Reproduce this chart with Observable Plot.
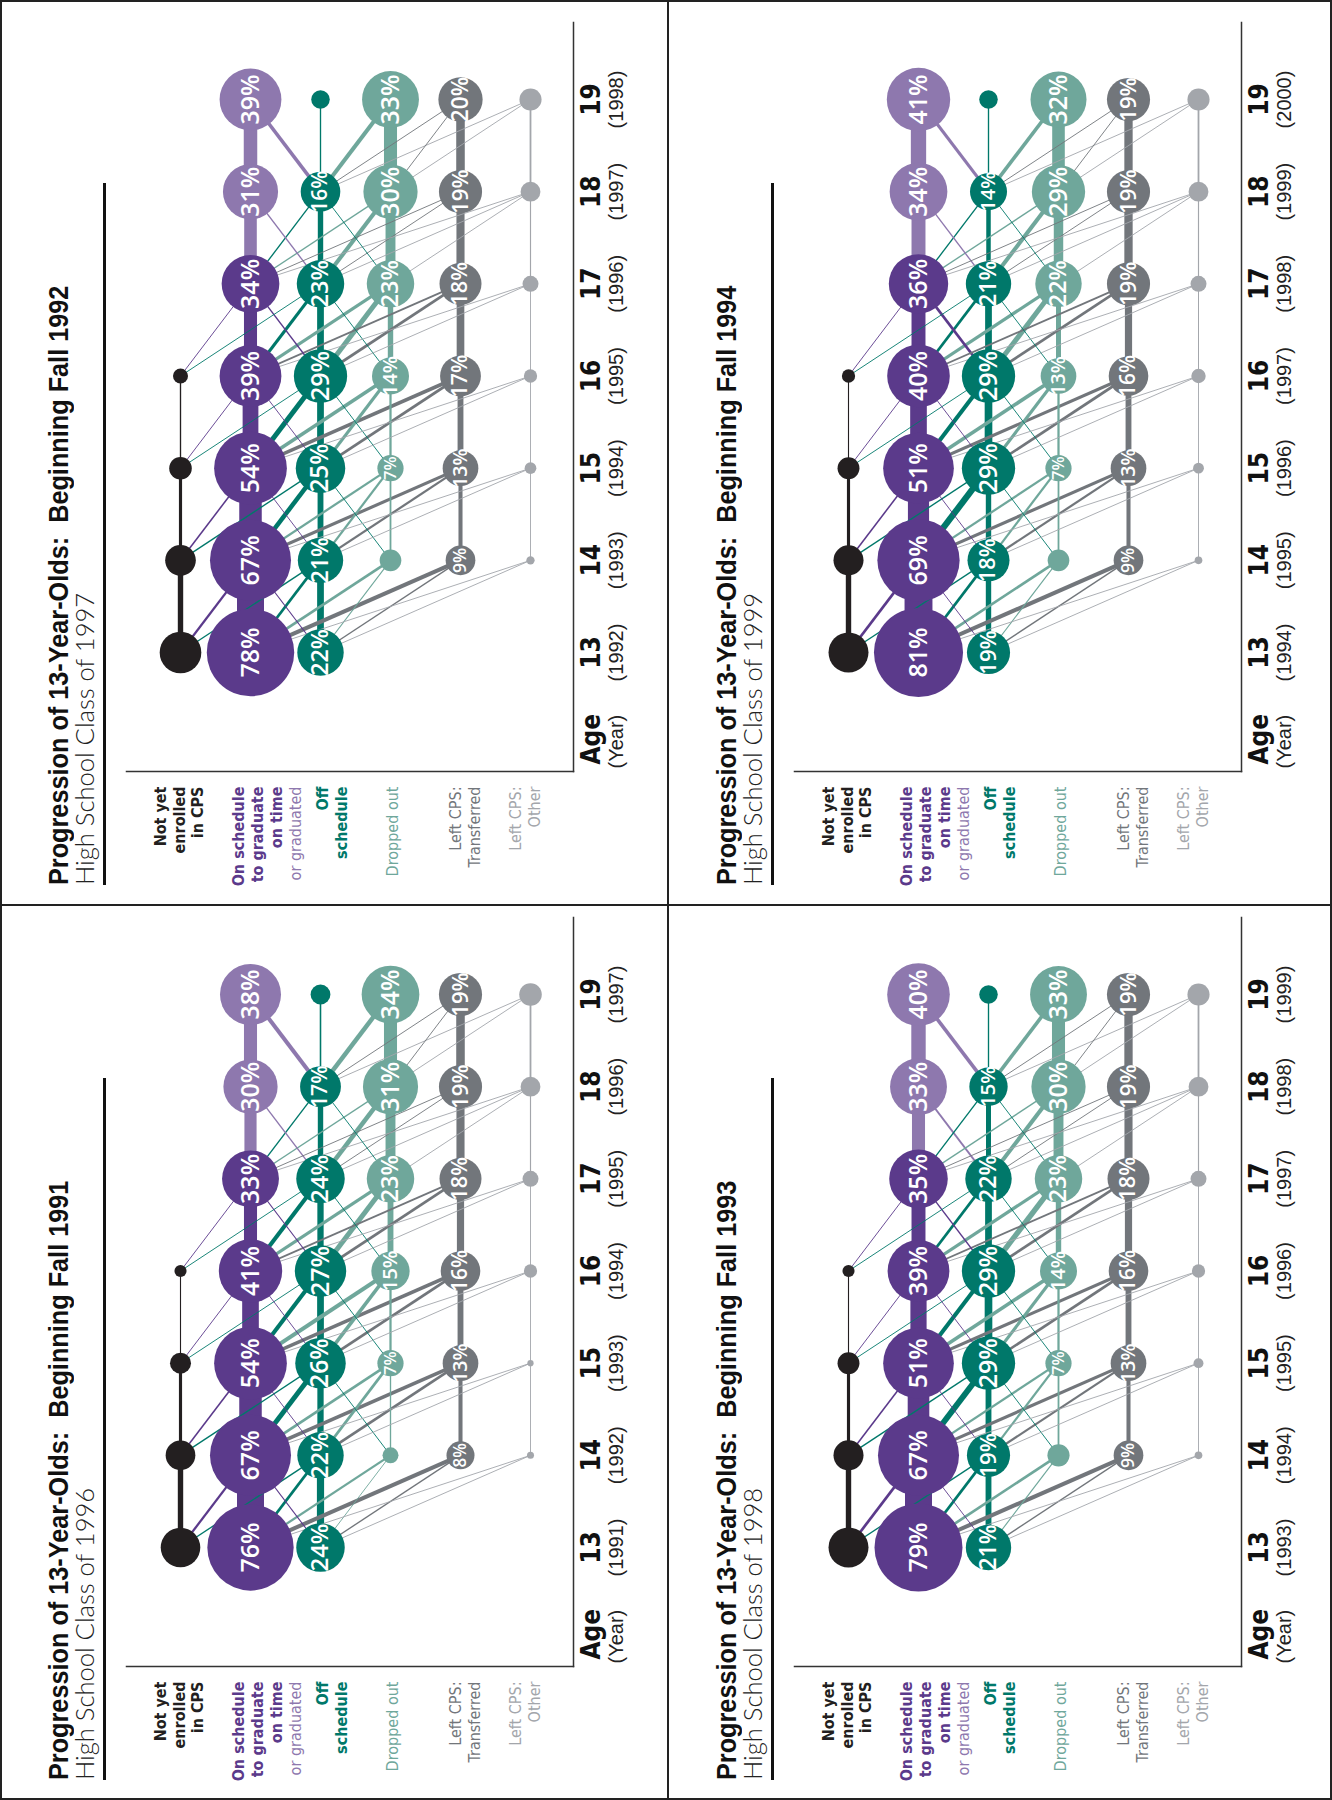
<!DOCTYPE html>
<html>
<head>
<meta charset="utf-8">
<script src="https://cdn.jsdelivr.net/npm/d3@7"></script>
<script src="https://cdn.jsdelivr.net/npm/@observablehq/plot@0.6"></script>
<style>
  html, body { margin: 0; padding: 0; background: #fff; }
  body { width: 1332px; height: 1800px; overflow: hidden; position: relative; }
  #page { position: absolute; left: 0; top: 0; width: 1800px; height: 1332px;
          transform-origin: 0 0; transform: translate(0px, 1800px) rotate(-90deg); background: #fff; }
  .panel { position: absolute; width: 895px; height: 668px; }
  .title { position: absolute; left: 20px; top: 43px; white-space: pre; line-height: 1; transform-origin: 0 0;
           font: bold 28px "Liberation Sans", Arial, sans-serif; color: #111; }
  .sub { position: absolute; left: 20px; top: 68px; white-space: pre; line-height: 1; transform-origin: 0 0;
         font: 300 26px Lato, "Liberation Sans", sans-serif; color: #222; }
  .rule { position: absolute; left: 20px; top: 103px; width: 702px; height: 2.5px; background: #111; }
  .chart { position: absolute; left: 0; top: 110px; }
  .line { position: absolute; background: #222; }
</style>
</head>
<body>
<div id="page"></div>
<script>
// ---------------- data ----------------
const CATS = ["N", "On", "Off", "Drop", "Tr", "Oth"];
const AGES = [13, 14, 15, 16, 17, 18, 19];

const years1991 = ["(1991)", "(1992)", "(1993)", "(1994)", "(1995)", "(1996)", "(1997)"];
const years1992 = ["(1992)", "(1993)", "(1994)", "(1995)", "(1996)", "(1997)", "(1998)"];
const years1993 = ["(1993)", "(1994)", "(1995)", "(1996)", "(1997)", "(1998)", "(1999)"];
const years1994 = ["(1994)", "(1995)", "(1996)", "(1997)", "(1998)", "(1999)", "(2000)"];

// node percentages, rows in CATS order, columns ages 13..19 (null = no node)
const nodes1991 = [
  [16, 9, 4.5, 1.5, null, null, null],
  [76, 67, 54, 41, 33, 30, 38],
  [24, 22, 26, 27, 24, 17, 4],
  [null, 2.6, 7, 15, 23, 31, 34],
  [null, 8, 13, 16, 18, 19, 19],
  [null, 0.5, 0.4, 1.8, 2.6, 4, 5.2]
];
const nodes1992 = [
  [17.7, 9.6, 5.2, 2.3, null, null, null],
  [78, 67, 54, 39, 34, 31, 39],
  [22, 21, 25, 29, 23, 16, 3.5],
  [null, 4.8, 7, 14, 23, 30, 33],
  [null, 9, 13, 17, 18, 19, 20],
  [null, 0.7, 1.4, 1.8, 2.6, 4, 5]
];
const nodes1993 = [
  [16.3, 9.2, 4.9, 1.5, null, null, null],
  [79, 67, 51, 39, 35, 33, 40],
  [21, 19, 29, 29, 22, 15, 3.5],
  [null, 5, 7, 14, 23, 30, 33],
  [null, 9, 13, 16, 18, 19, 19],
  [null, 0.6, 1, 1.8, 2.6, 4, 5]
];
const nodes1994 = [
  [16.3, 9.2, 4.9, 1.8, null, null, null],
  [81, 69, 51, 40, 36, 34, 41],
  [19, 18, 29, 29, 21, 14, 3.5],
  [null, 4.8, 7, 13, 22, 29, 32],
  [null, 9, 13, 16, 19, 19, 19],
  [null, 0.6, 1.2, 2.1, 2.6, 4, 5]
];

// transitions from age a to a+1: which categories are linked
const EDGES_13 = ["N>N","N>On","N>Off","On>On","On>Off","On>Drop","On>Tr","On>Oth","Off>On","Off>Off","Off>Drop","Off>Tr","Off>Oth"];
const EDGES_14 = ["N>N","N>On","N>Off","On>On","On>Off","On>Drop","On>Tr","On>Oth","Off>On","Off>Off","Off>Drop","Off>Tr","Off>Oth","Drop>Drop","Drop>Off","Tr>Tr","Oth>Oth"];
const EDGES_15 = EDGES_14;
const EDGES_16 = ["N>On","N>Off","On>On","On>Off","On>Drop","On>Tr","On>Oth","Off>On","Off>Off","Off>Drop","Off>Tr","Off>Oth","Drop>Drop","Drop>Off","Tr>Tr","Oth>Oth"];
const EDGES_17 = ["On>On","On>Off","On>Drop","On>Tr","On>Oth","Off>On","Off>Off","Off>Drop","Off>Tr","Off>Oth","Drop>Drop","Drop>Off","Drop>Oth","Tr>Tr","Oth>Oth"];
const EDGES_18 = ["On>On","Off>On","Off>Off","Off>Drop","Off>Tr","Off>Oth","Drop>Drop","Drop>Tr","Drop>Oth","Tr>Tr","Oth>Oth"];
const EDGES = [EDGES_13, EDGES_14, EDGES_15, EDGES_16, EDGES_17, EDGES_18];

// estimated flow sizes (percent of cohort) for each edge above
const flows1991 = [
  [12, 5, 3, 60, 6, 5, 9, 0.5, 2.5, 16, 2, 3, 0.5],
  [7, 3.5, 3, 50, 11, 6, 8, 0.5, 2, 14, 6, 6, 0.5, 3, 0.8, 9, 1],
  [2.5, 1.5, 2, 37, 9, 9, 8, 0.5, 2, 15, 8, 6, 0.5, 5, 1, 13, 1],
  [1, 1, 29, 9, 7, 4, 0.8, 2.5, 14, 11, 6, 0.8, 13, 1.5, 16, 2],
  [27, 3, 3, 1.5, 1, 3, 12, 10, 2, 1, 22, 1, 1, 18, 2.6],
  [29, 9, 3.5, 10, 1, 1, 29, 1, 1, 19, 4]
];
const flows1992 = [
  [12, 5, 3, 60, 6, 6, 9, 0.6, 2.5, 15, 2.5, 3, 0.5],
  [7, 3.5, 3, 50, 10, 5, 7, 0.6, 2, 13, 5, 5, 0.5, 4, 1, 9, 1],
  [3, 1.5, 2, 35, 11, 8, 8, 0.6, 2, 15, 7, 6, 0.6, 5, 1, 13, 1.4],
  [1.2, 1.2, 29, 7, 7, 4, 0.8, 3, 15, 11, 6, 0.8, 12, 1.5, 17, 2],
  [28, 3, 3, 1.5, 1, 3, 12, 9, 2, 1, 22, 1, 1, 18, 2.6],
  [30, 8, 3, 9, 1, 1, 29, 1, 1, 19, 4]
];
const flows1993 = [
  [12, 6, 3, 60, 6, 6, 9, 0.6, 2, 13, 2.5, 3, 0.5],
  [7, 3.5, 3, 48, 13, 5, 7, 0.6, 2, 13, 5, 5, 0.5, 4, 1, 9, 1],
  [2.5, 1.5, 2, 36, 9, 8, 7, 0.6, 2, 17, 7, 6, 0.6, 5, 1, 13, 1.2],
  [1, 1, 31, 6, 7, 4, 0.8, 3, 15, 12, 6, 0.8, 12, 1.5, 16, 2],
  [29, 3, 3, 1.5, 1, 4, 11, 9, 2, 1, 22, 1, 1, 18, 2.6],
  [32, 8, 3, 8, 1, 1, 29, 1, 1, 18.5, 4]
];
const flows1994 = [
  [12, 6, 3, 62, 6, 6, 9, 0.6, 2, 12, 2.5, 3, 0.5],
  [7, 3.5, 3, 47, 14, 5, 7, 0.6, 2, 12, 5, 5, 0.5, 4, 1, 9, 1],
  [2.5, 1.5, 2, 37, 9, 8, 7, 0.6, 2, 17, 7, 6, 0.6, 5, 1, 13, 1.4],
  [1.2, 1.2, 31, 6, 7, 4, 0.8, 6, 15, 11, 6, 0.8, 11, 1.5, 16, 2.2],
  [31, 3, 3, 1.5, 1, 3, 10, 9, 2, 1, 21, 1, 1, 18.5, 2.6],
  [34, 7, 3, 8, 1, 1, 28, 1, 1, 18.5, 4]
];

// row labels: [text, colour key, weight]
const LABEL_N = [["Not yet", "N", 700], ["enrolled", "N", 700], ["in CPS", "N", 700]];
const LABEL_On = [["On schedule", "On", 700], ["to graduate", "On", 700], ["on time", "On", 700], ["or graduated", "Grad", 400]];
const LABEL_Off = [["Off", "Off", 700], ["schedule", "Off", 700]];
const LABEL_Drop = [["Dropped out", "Drop", 400]];
const LABEL_Tr = [["Left CPS:", "Tr", 400], ["Transferred", "Tr", 400]];
const LABEL_Oth = [["Left CPS:", "Oth", 400], ["Other", "Oth", 400]];
const LABELS = {N: LABEL_N, On: LABEL_On, Off: LABEL_Off, Drop: LABEL_Drop, Tr: LABEL_Tr, Oth: LABEL_Oth};

const PANELS = [
  {title: "Progression of 13-Year-Olds:  Beginning Fall 1991", sub: "High School Class of 1996", years: years1991, nodes: nodes1991, flows: flows1991, left: 0, top: 0},
  {title: "Progression of 13-Year-Olds:  Beginning Fall 1992", sub: "High School Class of 1997", years: years1992, nodes: nodes1992, flows: flows1992, left: 895, top: 0},
  {title: "Progression of 13-Year-Olds:  Beginning Fall 1993", sub: "High School Class of 1998", years: years1993, nodes: nodes1993, flows: flows1993, left: 0, top: 668},
  {title: "Progression of 13-Year-Olds:  Beginning Fall 1994", sub: "High School Class of 1999", years: years1994, nodes: nodes1994, flows: flows1994, left: 895, top: 668}
];

// ---------------- styles ----------------
const COLORS = {N: "#231f20", On: "#5b3a8b", Grad: "#8e78ae", Off: "#00786a", Drop: "#6fa79b", Tr: "#72767b", Oth: "#a3a6ab"};
const NARROW = '"Liberation Sans Narrow", "DejaVu Sans Condensed", "Liberation Sans", sans-serif';
const SANS = '"Liberation Sans", Arial, sans-serif';
const BUBBLE_FONT = '"Open Sans", "Noto Sans", sans-serif';
const LABEL_SHIFT = {N: -2, On: 16, Off: 11, Drop: 1, Tr: 4, Oth: -6};
const PX_PER_PCT = 0.45;
const TITLE_W = 599, SUB_W = 292;

function nodeColor(cat, age) {
  return cat === "On" && age >= 18 ? COLORS.Grad : COLORS[cat];
}

function makeChart(cfg) {
  const nodes = [];
  CATS.forEach((c, ci) => AGES.forEach((a, ai) => {
    const p = cfg.nodes[ci][ai];
    if (p != null) nodes.push({cat: c, age: a, p, color: nodeColor(c, a)});
  }));
  const links = [];
  EDGES.forEach((list, ti) => list.forEach((e, ei) => {
    const [f, t] = e.split(">");
    const a = AGES[ti];
    links.push({a, from: f, to: t, v: cfg.flows[ti][ei], color: nodeColor(t, a + 1)});
  }));
  links.sort((p, q) => q.v - p.v);
  const labeled = nodes.filter(d => d.cat !== "N" && d.cat !== "Oth" && d.p >= 6);

  const labelMarks = CATS.map(c => {
    const lines = LABELS[c];
    const n = lines.length;
    const recs = lines.map(([text, col, w], k) => ({cat: c, text: "\n".repeat(k) + text + "\n".repeat(n - 1 - k), color: COLORS[col], w}));
    return [700, 400].map(w => Plot.text(recs.filter(r => r.w === w), {
      y: "cat", frameAnchor: "left", dx: -15, dy: LABEL_SHIFT[c],
      text: "text", fill: "color", textAnchor: "end", lineAnchor: "middle",
      lineHeight: 1.17, fontSize: 16, fontWeight: w, fontFamily: NARROW
    }));
  }).flat();

  return Plot.plot({
    width: 895, height: 558,
    marginLeft: 133, marginRight: 13, marginTop: 16, marginBottom: 95,
    x: {domain: [13, 19], range: [252, 805], axis: null},
    y: {type: "point", domain: CATS, range: [69, 420], padding: 0, axis: null},
    r: {type: "sqrt", domain: [0, 100], range: [0, 49.5]},
    color: {type: "identity"},
    style: {background: "transparent", overflow: "visible", fontFamily: NARROW},
    marks: [
      Plot.frame({anchor: "left", stroke: "#333", strokeWidth: 1.5}),
      Plot.frame({anchor: "bottom", stroke: "#333", strokeWidth: 1.5}),
      Plot.link(links, {
        x1: "a", y1: "from", x2: d => d.a + 1, y2: "to",
        stroke: "color", strokeWidth: d => Math.max(0.9, d.v * PX_PER_PCT), strokeLinecap: "butt"
      }),
      Plot.dot(nodes, {x: "age", y: "cat", r: "p", fill: "color", stroke: null}),
      Plot.text(labeled, {
        x: "age", y: "cat", text: d => d.p + "%", fill: "white",
        fontSize: d => Math.min(25, 7.5 + 0.68 * 4.95 * Math.sqrt(d.p)),
        fontWeight: 600, fontFamily: BUBBLE_FONT
      }),
      Plot.text(AGES, {x: d => d, frameAnchor: "bottom", dy: 26, text: d => String(d),
        fontSize: 26, fontWeight: 700, fill: "#111", fontFamily: NARROW}),
      Plot.text(AGES, {x: d => d, frameAnchor: "bottom", dy: 49, text: (d, i) => cfg.years[i],
        fontSize: 20, fill: "#222", fontFamily: SANS}),
      Plot.text(["Age"], {frameAnchor: "bottom-left", dx: 7, dy: 26, text: d => d, textAnchor: "start",
        fontSize: 26, fontWeight: 700, fill: "#111", fontFamily: NARROW}),
      Plot.text(["(Year)"], {frameAnchor: "bottom-left", dx: 3, dy: 49, text: d => d, textAnchor: "start",
        fontSize: 20, fill: "#222", fontFamily: SANS}),
      ...labelMarks
    ]
  });
}

const page = document.getElementById("page");
function fitWidth(el, target) {
  const w = el.offsetWidth;
  if (w > 0) el.style.transform = `scaleX(${target / w})`;
}
for (const cfg of PANELS) {
  const p = document.createElement("div");
  p.className = "panel";
  p.style.left = cfg.left + "px";
  p.style.top = cfg.top + "px";
  const t = document.createElement("div"); t.className = "title"; t.textContent = cfg.title; p.appendChild(t);
  const s = document.createElement("div"); s.className = "sub"; s.textContent = cfg.sub; p.appendChild(s);
  const r = document.createElement("div"); r.className = "rule"; p.appendChild(r);
  const c = document.createElement("div"); c.className = "chart"; c.appendChild(makeChart(cfg)); p.appendChild(c);
  page.appendChild(p);
  fitWidth(t, TITLE_W);
  fitWidth(s, SUB_W);
}
// page frame and dividers
function line(l, t, w, h) {
  const d = document.createElement("div"); d.className = "line";
  Object.assign(d.style, {left: l + "px", top: t + "px", width: w + "px", height: h + "px"});
  page.appendChild(d);
}
line(0, 0, 1800, 2); line(0, 1330, 1800, 2); line(0, 0, 2, 1332); line(1798, 0, 2, 1332);
line(894, 0, 2, 1332); line(0, 667, 1800, 2);
</script>
</body>
</html>
